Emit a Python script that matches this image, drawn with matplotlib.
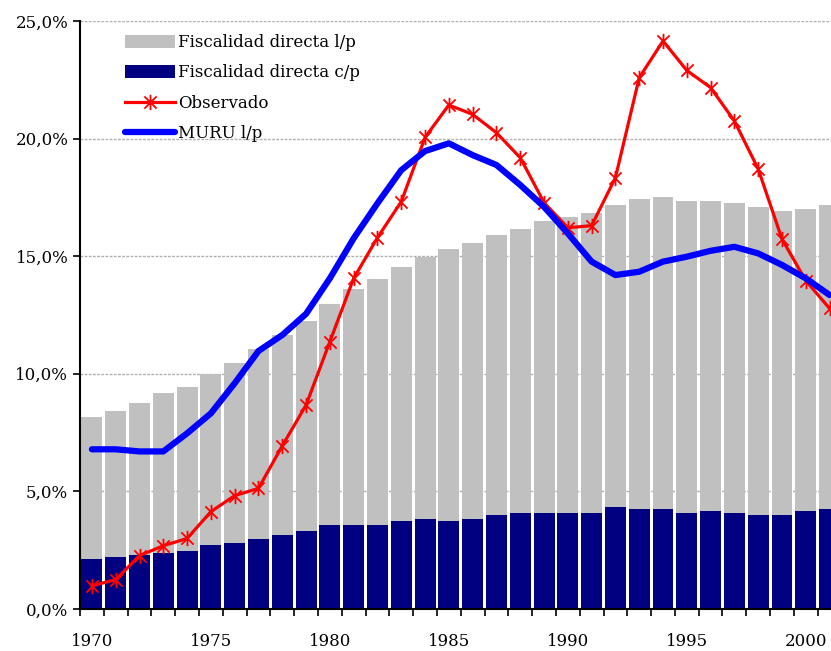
import numpy as np
import matplotlib
matplotlib.use("Agg")
from matplotlib import pyplot as plt
from matplotlib.path import Path
from matplotlib.ticker import FuncFormatter, MultipleLocator

years = np.arange(1970, 2002)

# fiscalidad directa largo plazo (total bar height, %)
fisc_lp = [8.16, 8.42, 8.76, 9.18, 9.44, 9.98, 10.46, 11.05, 11.65, 12.24,
           12.95, 13.60, 14.03, 14.54, 14.98, 15.31, 15.56, 15.90, 16.16, 16.50,
           16.67, 16.84, 17.18, 17.43, 17.52, 17.35, 17.35, 17.26, 17.09, 16.92,
           17.01, 17.18]
# fiscalidad directa corto plazo (%)
fisc_cp = [2.13, 2.21, 2.30, 2.38, 2.47, 2.72, 2.81, 2.98, 3.15, 3.32,
           3.57, 3.57, 3.57, 3.74, 3.83, 3.74, 3.83, 4.00, 4.08, 4.08,
           4.08, 4.08, 4.34, 4.25, 4.25, 4.08, 4.17, 4.08, 4.00, 4.00,
           4.17, 4.25]
observado = [0.99, 1.25, 2.27, 2.69, 3.00, 4.14, 4.82, 5.13, 6.94, 8.67,
             11.37, 14.06, 15.79, 17.32, 20.05, 21.43, 21.03, 20.25, 19.19, 17.28,
             16.21, 16.30, 18.34, 22.59, 24.15, 22.90, 22.17, 20.75, 18.71, 15.73,
             13.96, 12.78]
muru = [6.79, 6.79, 6.70, 6.70, 7.47, 8.32, 9.60, 10.97, 11.65, 12.55,
        14.06, 15.76, 17.25, 18.66, 19.47, 19.80, 19.30, 18.88, 18.03, 17.10,
        15.97, 14.77, 14.20, 14.34, 14.77, 14.98, 15.23, 15.40, 15.12, 14.63,
        14.06, 13.35]

plt.rcParams['font.family'] = ['DejaVu Serif']

# excel style star: an X with a vertical stroke
star = Path([(-1, -1), (1, 1), (-1, 1), (1, -1), (0, -1.25), (0, 1.25)],
            [Path.MOVETO, Path.LINETO, Path.MOVETO, Path.LINETO, Path.MOVETO, Path.LINETO])

fig = plt.figure(figsize=(8.31, 6.51), dpi=100)
ax = fig.add_axes([0.0963, 0.0645, 0.9037, 0.9032])

b1 = ax.bar(years, fisc_lp, width=0.88, color='#c0c0c0', label='Fiscalidad directa l/p', zorder=2)
b2 = ax.bar(years, fisc_cp, width=0.88, color='#000080', label='Fiscalidad directa c/p', zorder=3)
l1, = ax.plot(years, observado, color='#ff0000', lw=2.3, marker=star, ms=11, mew=1.3,
              label='Observado', zorder=4)
l2, = ax.plot(years, muru, color='#0000ff', lw=4.5, solid_capstyle='round',
              solid_joinstyle='round', label='MURU l/p', zorder=5)

ax.set_xlim(1969.5, 2001.06)
ax.set_ylim(0, 25)
ax.yaxis.set_major_locator(MultipleLocator(5))
ax.yaxis.set_major_formatter(FuncFormatter(lambda v, p: ('%.1f%%' % v).replace('.', ',')))
ax.set_xticks(np.arange(1969.5, 2001.5, 1))
ax.set_xticklabels([])
ax.set_xticks(np.arange(1970, 2001, 5), minor=True)
ax.set_xticklabels([str(y) for y in range(1970, 2001, 5)], minor=True)
ax.tick_params(axis='x', which='major', direction='out', length=5, width=1.2)
ax.tick_params(axis='x', which='minor', length=0, pad=17, labelsize=12)
ax.tick_params(axis='y', direction='out', length=5, width=1.2, labelsize=12)

ax.grid(axis='y', color='#b0b0b0', linestyle=(0, (2, 1)), linewidth=1, zorder=1)
ax.set_axisbelow(True)
for s in ['top', 'right']:
    ax.spines[s].set_visible(False)
for s in ['left', 'bottom']:
    ax.spines[s].set_linewidth(1.5)
    ax.spines[s].set_zorder(6)

ax.legend([b1, b2, l1, l2], [h.get_label() for h in [b1, b2, l1, l2]],
          loc='upper left', bbox_to_anchor=(125 / 831, 1 - 34 / 651),
          bbox_transform=fig.transFigure, frameon=False, fontsize=12,
          handlelength=3.0, handleheight=0.8, handletextpad=0.2, labelspacing=0.8,
          borderaxespad=0, borderpad=0)

fig.savefig('out.png', dpi=100)
